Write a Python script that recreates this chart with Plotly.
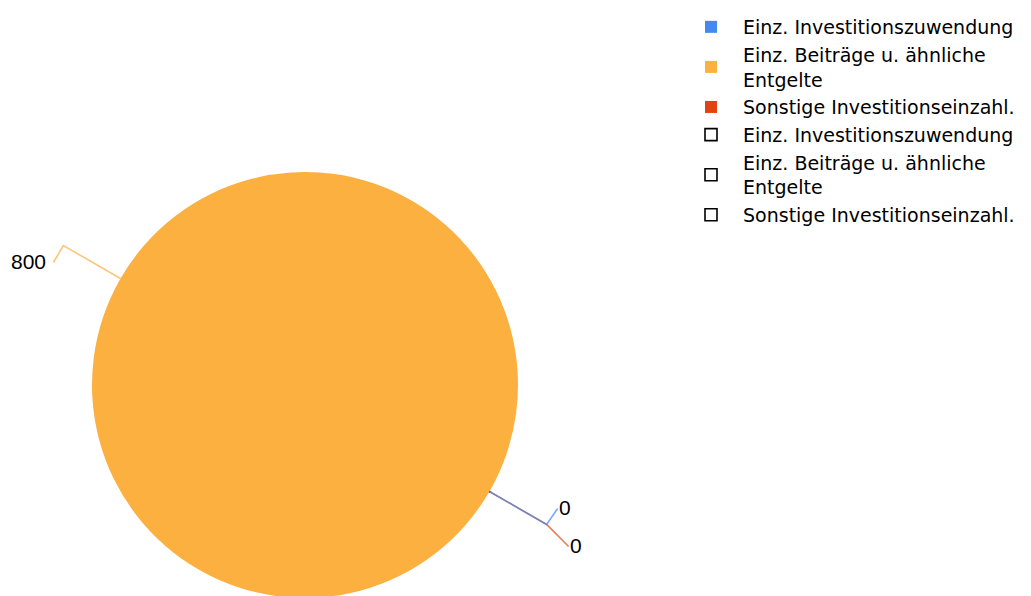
import math
import plotly.graph_objects as go

# ---------------- data ----------------
categories = [
    "Einz. Investitionszuwendung",
    "Einz. Beiträge u. ähnliche<br>Entgelte",
    "Sonstige Investitionseinzahl.",
]
series1_values = [0, 800, 0]
series2_values = [0, 0, 0]

# ---------------- style ----------------
series1_colors = ["#4289F0", "#FBB040", "#E14310"]
series2_colors = ["#FFFFFF", "#FFFFFF", "#FFFFFF"]
LABEL_FONT = "Liberation Sans, Arial, sans-serif"
LEGEND_FONT = "DejaVu Sans, Liberation Sans, sans-serif"
W, H = 1031, 596
PAGE_OFF = 8                        # body margin of the html page
CX, CY, R = 305 - PAGE_OFF, 385 - PAGE_OFF, 213   # pie centre / radius in figure px
ROTATION = 120                      # degrees clockwise from 12 o'clock
LEADER_OUT = 66                     # radial leader length beyond the rim (px)
# tail offsets (px) of the label leaders, and text anchor side (series 1 order)
label_tails = [(11, -16, "left"), (-10, 17, "right"), (22, 22, "left")]

# Both series share one pie (series 2 is empty). Slices are stored in reverse
# order (series 2 first, so it is painted underneath) and the legend is
# reversed back; a zero-width space keeps series-2 legend entries distinct.
s1_labels = list(categories)
s2_labels = [c + "\u200b" for c in categories]
labels = (s1_labels + s2_labels)[::-1]
values = (series1_values + series2_values)[::-1]
colors = (series1_colors + series2_colors)[::-1]
line_w = ([0] * 3 + [1.6] * 3)[::-1]
line_c = (["rgba(0,0,0,0)"] * 3 + ["#000000"] * 3)[::-1]

fig = go.Figure()
dom_x = [(CX - R) / W, (CX + R) / W]
dom_y = [(H - CY - R) / H, (H - CY + R) / H]

fig.add_trace(go.Pie(
    labels=labels, values=values,
    marker=dict(colors=colors, line=dict(width=line_w, color=line_c)),
    sort=False, rotation=ROTATION, direction="counterclockwise",
    textinfo="none", hoverinfo="label+value",
    domain=dict(x=dom_x, y=dom_y),
))

# ---------------- labels with leader lines (computed from values) ----------------
def px_to_paper(x, y):
    return x / W, 1 - y / H

total = sum(values)
mid_angle = {}
cum = 0.0
for lab, val in zip(labels, values):
    mid_angle[lab] = ROTATION - (cum + val / 2) / total * 360
    cum += val

shapes, annotations = [], []
for lab, val, col, (tx, ty, side) in zip(s1_labels, series1_values, series1_colors, label_tails):
    a = math.radians(mid_angle[lab])
    ex, ey = CX + R * math.sin(a), CY - R * math.cos(a)
    ox, oy = CX + (R + LEADER_OUT) * math.sin(a), CY - (R + LEADER_OUT) * math.cos(a)
    lx, ly = ox + tx, oy + ty
    p = [px_to_paper(*q) for q in [(ex, ey), (ox, oy), (lx, ly)]]
    path = "M {:.5f},{:.5f} L {:.5f},{:.5f} L {:.5f},{:.5f}".format(
        p[0][0], p[0][1], p[1][0], p[1][1], p[2][0], p[2][1])
    shapes.append(dict(type="path", path=path, xref="paper", yref="paper",
                       line=dict(color=col, width=1.6), opacity=0.7, layer="above"))
    gap = -1 if side == "left" else -5
    ax, ay = px_to_paper(lx + gap, ly)
    annotations.append(dict(x=ax, y=ay, xref="paper", yref="paper",
                            text="{:g}".format(val), showarrow=False,
                            xanchor=side, yanchor="middle", yshift=1,
                            font=dict(family=LABEL_FONT, size=21, color="#000000")))
shapes = shapes[::-1]   # first series' leader drawn on top

fig.update_layout(
    width=W, height=H,
    margin=dict(l=0, r=0, t=0, b=0),
    paper_bgcolor="white", plot_bgcolor="white",
    shapes=shapes, annotations=annotations,
    legend=dict(x=671 / W, y=1, xanchor="left", yanchor="top",
                font=dict(family=LEGEND_FONT, size=19, color="#000000"),
                itemwidth=54, tracegroupgap=0, bgcolor="rgba(0,0,0,0)",
                traceorder="reversed"),
    showlegend=True,
)

fig.write_html("out.html")
